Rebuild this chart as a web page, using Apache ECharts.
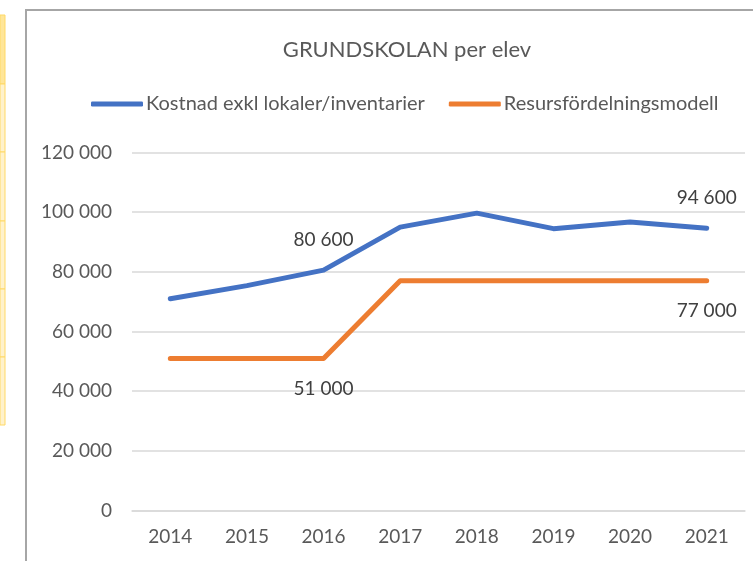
<!DOCTYPE html>
<html>
<head>
<meta charset="utf-8">
<script src="https://cdn.jsdelivr.net/npm/echarts@6/dist/echarts.min.js"></script>
<style>
html,body{margin:0;padding:0;background:#fff;}
#chart{width:753px;height:561px;}
</style>
</head>
<body>
<div id="chart"></div>
<script>
var categories = ['2014','2015','2016','2017','2018','2019','2020','2021'];
var kostnad = [71000, 75400, 80600, 95000, 99700, 94500, 96700, 94600];
var resurs = [51000, 51000, 51000, 77000, 77000, 77000, 77000, 77000];
var seriesNames = ['Kostnad exkl lokaler/inventarier', 'Resursfördelningsmodell'];
var kostnadLabelIdx = [2, 7];
var resursLabelIdx = [2, 7];
var yTicks = [0, 20000, 40000, 60000, 80000, 100000, 120000];

var FONT = 'Lato';
function fmt(v){ return String(v).replace(/\B(?=(\d{3})+(?!\d))/g, ' '); }
function build(vals, idx, pos){
  return vals.map(function(v,i){
    return { value: v, label: { show: idx.indexOf(i) >= 0, position: pos } };
  });
}

var chart = echarts.init(document.getElementById('chart'));
chart.setOption({
  backgroundColor: '#fff',
  animation: false,
  textStyle: { fontFamily: FONT },
  title: {
    text: 'GRUNDSKOLAN per elev',
    left: 402, top: 34, textAlign: 'center',
    textStyle: { fontFamily: FONT, fontSize: 22, fontWeight: 'normal', color: '#595959' }
  },
  legend: {
    left: 86, top: 89,
    itemWidth: 52, itemHeight: 5, itemGap: 24,
    icon: 'roundRect',
    textStyle: { fontFamily: FONT, fontSize: 20, color: '#595959', padding: [0,0,0,-2] },
    data: seriesNames
  },
  grid: { left: 132, right: 8, top: 152.6, bottom: 50.5, containLabel: false },
  xAxis: {
    type: 'category', data: categories, boundaryGap: true,
    axisTick: { show: false },
    axisLine: { lineStyle: { color: '#d9d9d9', width: 1.5 } },
    axisLabel: { color: '#595959', fontSize: 19, fontFamily: FONT, margin: 17 }
  },
  yAxis: {
    type: 'value', min: yTicks[0], max: yTicks[yTicks.length-1], interval: yTicks[1]-yTicks[0],
    axisLine: { show: false }, axisTick: { show: false },
    splitLine: { lineStyle: { color: '#d9d9d9', width: 1.5 } },
    axisLabel: { color: '#595959', fontSize: 19, fontFamily: FONT, margin: 20, formatter: fmt }
  },
  series: [
    {
      name: seriesNames[0], type: 'line', data: build(kostnad, kostnadLabelIdx, 'top'),
      symbol: 'circle', symbolSize: 1, showSymbol: true,
      lineStyle: { color: '#4472C4', width: 5, cap: 'round', join: 'round' },
      itemStyle: { color: '#4472C4' },
      label: { distance: 20, color: '#404040', fontSize: 19, fontFamily: FONT, formatter: function(p){ return fmt(p.value); } },
      z: 3
    },
    {
      name: seriesNames[1], type: 'line', data: build(resurs, resursLabelIdx, 'bottom'),
      symbol: 'circle', symbolSize: 1, showSymbol: true,
      lineStyle: { color: '#ED7D31', width: 5, cap: 'round', join: 'round' },
      itemStyle: { color: '#ED7D31' },
      label: { distance: 20, color: '#404040', fontSize: 19, fontFamily: FONT, formatter: function(p){ return fmt(p.value); } },
      z: 2
    }
  ],
  graphic: [
    { type: 'rect', shape: { x: 26, y: 10, width: 800, height: 600 }, style: { fill: 'none', stroke: '#a6a6a6', lineWidth: 2 }, silent: true, z: 10 },
    { type: 'rect', shape: { x: 0, y: 15, width: 5, height: 69 }, style: { fill: '#ffe699', stroke: '#ffd966', lineWidth: 1 }, silent: true },
    { type: 'rect', shape: { x: 0, y: 84, width: 5, height: 68 }, style: { fill: '#fff2cc', stroke: '#ffd966', lineWidth: 1 }, silent: true },
    { type: 'rect', shape: { x: 0, y: 152, width: 5, height: 69 }, style: { fill: '#fff2cc', stroke: '#ffd966', lineWidth: 1 }, silent: true },
    { type: 'rect', shape: { x: 0, y: 221, width: 5, height: 68 }, style: { fill: '#fff2cc', stroke: '#ffd966', lineWidth: 1 }, silent: true },
    { type: 'rect', shape: { x: 0, y: 289, width: 5, height: 68 }, style: { fill: '#fff2cc', stroke: '#ffd966', lineWidth: 1 }, silent: true },
    { type: 'rect', shape: { x: 0, y: 357, width: 5, height: 68 }, style: { fill: '#fff2cc', stroke: '#ffd966', lineWidth: 1 }, silent: true }
  ]
});
</script>
</body>
</html>
